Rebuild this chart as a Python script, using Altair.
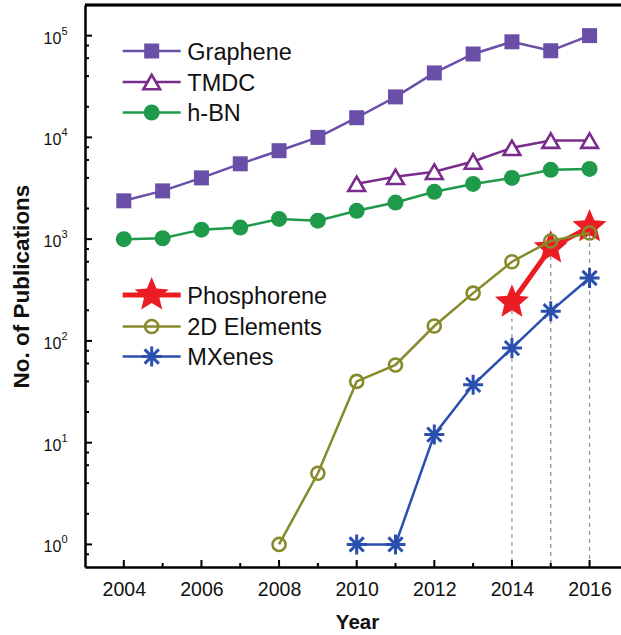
import altair as alt
import pandas as pd

# ---- data: publications per year (log scale) ----
graphene_years = list(range(2004, 2017))
graphene = [2380, 2980, 4000, 5500, 7400, 10000, 15600, 25000, 43000, 66000, 87000, 71000, 100000]

tmdc_years = list(range(2010, 2017))
tmdc = [3500, 4100, 4600, 5800, 7900, 9300, 9300]

hbn_years = list(range(2004, 2017))
hbn = [1000, 1020, 1240, 1300, 1580, 1520, 1900, 2290, 2920, 3490, 4000, 4800, 4900]

phos_years = [2014, 2015, 2016]
phosphorene = [240, 820, 1320]

elem_years = list(range(2008, 2017))
elements_2d = [1, 5, 40, 58, 140, 295, 600, 960, 1150]

mx_years = list(range(2010, 2017))
mxenes = [1, 1, 12, 37, 85, 196, 415]

# axis ticks / labels
x_label_years = [2004, 2006, 2008, 2010, 2012, 2014, 2016]
x_minor_years = [2005, 2007, 2009, 2011, 2013, 2015]
y_exponents = [0, 1, 2, 3, 4, 5]
y_minor = [0.8, 2, 4, 6, 8, 20, 40, 60, 80, 200, 400, 600, 800,
           2000, 4000, 6000, 8000, 20000, 40000, 60000, 80000]

# ---- layout / style ----
W, H = 536, 562
FONT = "Liberation Sans"
C_GRAPHENE = "#6a4fa8"
C_TMDC = "#7a2c8c"
C_HBN = "#1f9a4a"
C_PHOS = "#ec1c24"
C_ELEM = "#878a2b"
C_MX = "#2b4fae"

STAR = ("M0,-1L0.265,-0.364L0.951,-0.309L0.428,0.139L0.588,0.809L0,0.45"
        "L-0.588,0.809L-0.428,0.139L-0.951,-0.309L-0.265,-0.364Z")
ASTER = "M0,-1L0,1M-1,0L1,0M-0.71,-0.71L0.71,0.71M-0.71,0.71L0.71,-0.71"

x_scale = alt.Scale(domain=[2003, 2016.81], nice=False, zero=False)
y_scale = alt.Scale(type="log", domain=[0.6, 200000], nice=False)

x_axis = alt.Axis(
    orient="bottom", values=x_label_years, format="d", ticks=False, tickSize=0,
    grid=False, labelFont=FONT, labelFontSize=19.5, labelColor="#111",
    labelPadding=13, labelFlush=False, labelOverlap=False,
    domainColor="black", domainWidth=2.5,
    title="Year", titleFont=FONT, titleFontSize=20.5, titleFontWeight="bold",
    titleColor="#111", titleX=272, titleY=61, titleAlign="center",
    titleBaseline="alphabetic",
)
y_axis = alt.Axis(
    orient="left", labels=False, ticks=False, tickSize=0, grid=False,
    domainColor="black", domainWidth=2.5,
    title="No. of Publications", titleFont=FONT, titleFontSize=22.5,
    titleFontWeight="bold", titleColor="#111", titleAngle=270,
    titleX=-64, titleY=281, titleAlign="center", titleBaseline="middle",
)


# every layer carries the same axis definition so they merge into one
def X():
    return alt.X("year:Q", scale=x_scale, axis=x_axis)


def Y():
    return alt.Y("count:Q", scale=y_scale, axis=y_axis)


def frame(years, values):
    return pd.DataFrame({"year": years, "count": values})


layers = []

# dashed guides from the phosphorene points down to the year axis
phos_df = frame(phos_years, phosphorene)
layers.append(
    alt.Chart(phos_df).mark_rule(color="#8c8c8c", strokeWidth=1.2, strokeDash=[4, 4])
    .encode(x=X(), y=Y(), y2=alt.value(H))
)

# top border
layers.append(
    alt.Chart(phos_df).mark_rule(color="black", strokeWidth=2.5)
    .encode(x=alt.value(0), x2=alt.value(W), y=alt.value(0))
)

# inward ticks
layers.append(
    alt.Chart(pd.DataFrame({"count": [10.0 ** e for e in y_exponents]}))
    .mark_rule(color="black", strokeWidth=2)
    .encode(y=Y(), x=alt.value(0), x2=alt.value(7))
)
layers.append(
    alt.Chart(pd.DataFrame({"count": y_minor}))
    .mark_rule(color="black", strokeWidth=2)
    .encode(y=Y(), x=alt.value(0), x2=alt.value(4))
)
layers.append(
    alt.Chart(pd.DataFrame({"year": x_label_years}))
    .mark_rule(color="black", strokeWidth=2)
    .encode(x=X(), y=alt.value(H), y2=alt.value(H - 7))
)
layers.append(
    alt.Chart(pd.DataFrame({"year": x_minor_years}))
    .mark_rule(color="black", strokeWidth=2)
    .encode(x=X(), y=alt.value(H), y2=alt.value(H - 4))
)

# y tick labels: 10 with a superscript exponent
exp_df = pd.DataFrame({"count": [10.0 ** e for e in y_exponents],
                       "exp": [str(e) for e in y_exponents]})
layers.append(
    alt.Chart(exp_df).mark_text(text="10", align="right", baseline="alphabetic",
                                dy=8, fontSize=16, font=FONT, color="#111")
    .encode(y=Y(), x=alt.value(-23.7))
)
layers.append(
    alt.Chart(exp_df).mark_text(align="left", baseline="alphabetic", dy=-1,
                                fontSize=11, font=FONT, color="#111")
    .encode(y=Y(), x=alt.value(-23.6), text="exp:N")
)


def series(df, color, width, point_kwargs):
    line = alt.Chart(df).mark_line(color=color, strokeWidth=width).encode(x=X(), y=Y())
    pts = alt.Chart(df).mark_point(opacity=1, **point_kwargs).encode(x=X(), y=Y())
    return [line, pts]


SQUARE_PT = dict(shape="square", filled=True, fill=C_GRAPHENE, strokeWidth=0, size=225)
TRI_PT = dict(shape="triangle-up", filled=False, fill="white", stroke=C_TMDC,
              strokeWidth=2.6, size=280)
CIRC_PT = dict(shape="circle", filled=True, fill=C_HBN, strokeWidth=0, size=256)
STAR_PT = dict(shape=STAR, filled=True, fill=C_PHOS, strokeWidth=0, size=1280)
OPEN_PT = dict(shape="circle", filled=False, stroke=C_ELEM, strokeWidth=2.6, size=170)
AST_PT = dict(shape=ASTER, filled=False, stroke=C_MX, strokeWidth=3, size=400)

layers += series(frame(graphene_years, graphene), C_GRAPHENE, 2.5, SQUARE_PT)
layers += series(frame(tmdc_years, tmdc), C_TMDC, 2.5, TRI_PT)
layers += series(frame(hbn_years, hbn), C_HBN, 2.5, CIRC_PT)
layers += series(phos_df, C_PHOS, 5, STAR_PT)
layers += series(frame(elem_years, elements_2d), C_ELEM, 2.5, OPEN_PT)
layers += series(frame(mx_years, mxenes), C_MX, 2.5, AST_PT)

# legend (two groups)
LEG_X0, LEG_X1, LEG_MK, LEG_TX = 37.7, 95.7, 66.7, 102.3
legend_rows = [
    ("Graphene", 46, C_GRAPHENE, 2.5, SQUARE_PT),
    ("TMDC", 77, C_TMDC, 2.5, TRI_PT),
    ("h-BN", 107.5, C_HBN, 2.5, CIRC_PT),
    ("Phosphorene", 290, C_PHOS, 5, STAR_PT),
    ("2D Elements", 321.5, C_ELEM, 2.5, OPEN_PT),
    ("MXenes", 351.5, C_MX, 2.5, AST_PT),
]
for label, ly, color, lw, pk in legend_rows:
    ldf = pd.DataFrame({"label": [label]})
    layers.append(
        alt.Chart(ldf).mark_rule(color=color, strokeWidth=lw)
        .encode(x=alt.value(LEG_X0), x2=alt.value(LEG_X1), y=alt.value(ly))
    )
    layers.append(
        alt.Chart(ldf).mark_point(opacity=1, **pk)
        .encode(x=alt.value(LEG_MK), y=alt.value(ly))
    )
    layers.append(
        alt.Chart(ldf).mark_text(align="left", baseline="middle", dy=1.5,
                                 fontSize=23.5, font=FONT, color="#111")
        .encode(x=alt.value(LEG_TX), y=alt.value(ly), text="label:N")
    )

chart = (
    alt.layer(*layers)
    .properties(
        width=W, height=H,
        padding={"left": 85, "top": 5, "right": 0, "bottom": 68},
        autosize=alt.AutoSizeParams(type="none"),
        background="white",
    )
    .configure_view(stroke=None)
)

chart.save("out.html", embed_options={"renderer": "svg", "actions": False})
